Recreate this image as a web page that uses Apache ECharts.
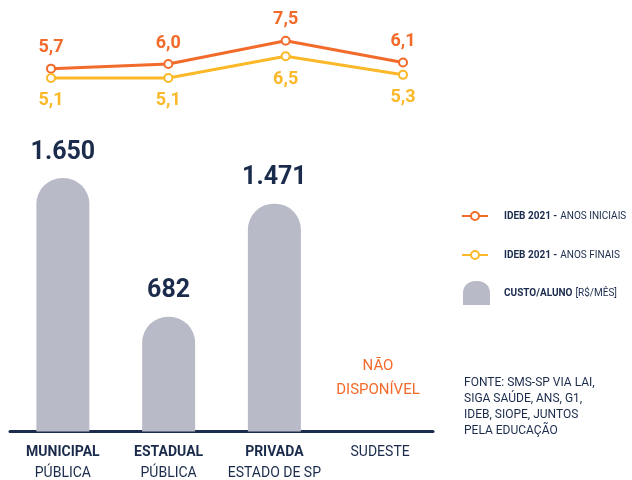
<!DOCTYPE html>
<html>
<head>
<meta charset="utf-8">
<script src="https://cdn.jsdelivr.net/npm/echarts@6/dist/echarts.min.js"></script>
<style>
  html, body { margin: 0; padding: 0; background: #fff; }
  #chart { width: 632px; height: 480px; }
</style>
</head>
<body>
<div id="chart"></div>
<script>
const FONT = "Roboto, 'Liberation Sans', sans-serif";
const NAVY = "#1a2b4c";
const ORANGE = "#f26b2b";
const YELLOW = "#fbb829";
const GRAY = "#b9bac7";

const categories = ["MUNICIPAL", "ESTADUAL", "PRIVADA", "SUDESTE"];
const subLabels = ["PÚBLICA", "PÚBLICA", "ESTADO DE SP", ""];
const custoAluno = [1650, 682, 1471, null];
const anosIniciais = [5.7, 6.0, 7.5, 6.1];
const anosFinais = [5.1, 5.1, 6.5, 5.3];

// the infographic bars do not start at zero: every bar carries the same offset
const BAR_BASE = 119;

const chart = echarts.init(document.getElementById("chart"));

const fmt = (p) => p.value.toFixed(1).replace(".", ",");

chart.setOption({
  animation: false,
  textStyle: { fontFamily: FONT },
  grid: [
    { left: 10, right: 199, top: 142, bottom: 48 },
    { left: 51, right: 229, top: 33, bottom: 385 },
  ],
  xAxis: [
    {
      type: "category",
      data: categories,
      gridIndex: 0,
      axisLine: { lineStyle: { color: NAVY, width: 3 } },
      axisTick: { show: false },
      axisLabel: {
        interval: 0,
        margin: 10,
        formatter: (v, i) => (subLabels[i] ? `{b|${v}}\n{n|${subLabels[i]}}` : `{n|${v}}`),
        rich: {
          b: { fontFamily: FONT, fontWeight: "bold", fontSize: 14, color: NAVY, lineHeight: 21 },
          n: { fontFamily: FONT, fontSize: 14, color: NAVY, lineHeight: 21 },
        },
      },
    },
    {
      type: "category",
      data: categories,
      gridIndex: 1,
      boundaryGap: false,
      show: false,
    },
  ],
  yAxis: [
    { type: "value", gridIndex: 0, min: 0, max: 2020, show: false },
    { type: "value", gridIndex: 1, min: 4, max: 8, show: false },
  ],
  legend: [
    {
      orient: "vertical",
      left: 461,
      top: 210,
      padding: 0,
      itemWidth: 26,
      itemHeight: 10,
      itemGap: 27,
      data: ["IDEB 2021 - ANOS INICIAIS", "IDEB 2021 - ANOS FINAIS"],
      formatter: (name) => {
        const parts = name.split(" - ");
        return `{b|${parts[0]} -} {n|${parts[1]}}`;
      },
      textStyle: {
        padding: [0, 0, 0, 11],
        rich: {
          b: { fontFamily: FONT, fontWeight: "bold", fontSize: 10, color: NAVY },
          n: { fontFamily: FONT, fontSize: 10, color: NAVY },
        },
      },
    },
    {
      orient: "vertical",
      left: 463,
      top: 281,
      padding: 0,
      itemWidth: 27,
      itemHeight: 24,
      data: [
        {
          name: "CUSTO/ALUNO",
          icon: "path://M0,24L0,12A12,12 0 0 1 12,0L15,0A12,12 0 0 1 27,12L27,24Z",
        },
      ],
      formatter: (name) => `{b|${name}} {n|[R$/MÊS]}`,
      textStyle: {
        padding: [0, 0, 0, 9],
        rich: {
          b: { fontFamily: FONT, fontWeight: "bold", fontSize: 10, color: NAVY },
          n: { fontFamily: FONT, fontSize: 10, color: NAVY },
        },
      },
    },
  ],
  title: {
    text: "FONTE: SMS-SP VIA LAI,\nSIGA SAÚDE, ANS, G1,\nIDEB, SIOPE, JUNTOS\nPELA EDUCAÇÃO",
    left: 464,
    top: 375,
    padding: 0,
    textStyle: { fontFamily: FONT, fontWeight: "normal", fontSize: 12, color: NAVY, lineHeight: 16 },
  },
  graphic: [
    {
      type: "text",
      x: 378,
      y: 354,
      style: {
        text: "NÃO\nDISPONÍVEL",
        fill: ORANGE,
        font: `15px ${FONT}`,
        align: "center",
        verticalAlign: "top",
        lineHeight: 24,
      },
    },
  ],
  series: [
    {
      name: "CUSTO/ALUNO",
      type: "bar",
      xAxisIndex: 0,
      yAxisIndex: 0,
      data: custoAluno.map((v) => (v == null ? null : v + BAR_BASE)),
      barWidth: 53,
      itemStyle: { color: GRAY, borderRadius: [26, 26, 0, 0] },
      label: {
        show: true,
        position: "top",
        distance: 13,
        formatter: (p) => custoAluno[p.dataIndex].toLocaleString("pt-BR"),
        fontFamily: FONT,
        fontWeight: "bold",
        fontSize: 25,
        color: NAVY,
      },
    },
    {
      name: "IDEB 2021 - ANOS INICIAIS",
      type: "line",
      xAxisIndex: 1,
      yAxisIndex: 1,
      data: anosIniciais,
      symbol: "circle",
      symbolSize: 8,
      lineStyle: { color: ORANGE, width: 3 },
      itemStyle: { color: "#fff", borderColor: ORANGE, borderWidth: 2 },
      label: {
        show: true,
        position: "top",
        distance: 7,
        formatter: fmt,
        fontFamily: FONT,
        fontWeight: "bold",
        fontSize: 18,
        color: ORANGE,
      },
      z: 3,
    },
    {
      name: "IDEB 2021 - ANOS FINAIS",
      type: "line",
      xAxisIndex: 1,
      yAxisIndex: 1,
      data: anosFinais,
      symbol: "circle",
      symbolSize: 8,
      lineStyle: { color: YELLOW, width: 3 },
      itemStyle: { color: "#fff", borderColor: YELLOW, borderWidth: 2 },
      label: {
        show: true,
        position: "bottom",
        distance: 9,
        formatter: fmt,
        fontFamily: FONT,
        fontWeight: "bold",
        fontSize: 18,
        color: YELLOW,
      },
    },
  ],
});

window.addEventListener("resize", () => chart.resize());
</script>
</body>
</html>
